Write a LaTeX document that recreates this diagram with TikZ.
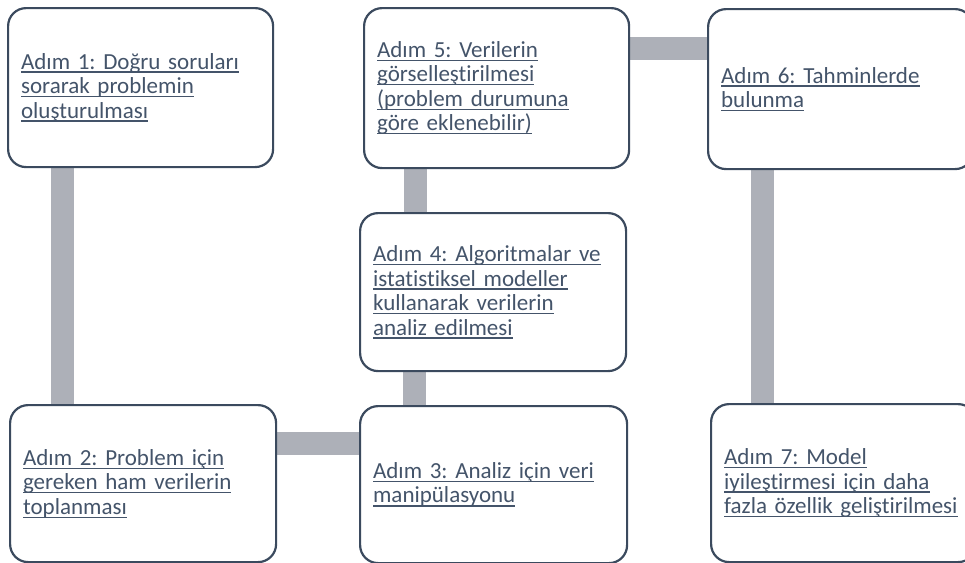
\documentclass[tikz,border=0pt]{standalone}
\usepackage{fontspec}
\setmainfont{Carlito}[Ligatures=NoCommon]
\usetikzlibrary{backgrounds}
\definecolor{boxline}{HTML}{3B4A5E}
\definecolor{txt}{HTML}{44546A}
\definecolor{link}{HTML}{ADB0B8}
\frenchspacing
\newlength\ulwd
% underlined line at a fixed depth below the baseline
\newcommand\ulline[1]{\mbox{\settowidth\ulwd{#1}\rlap{\rule[-3.6pt]{\ulwd}{1.3pt}}#1}}
\begin{document}
\begin{tikzpicture}[x=1pt,y=-1pt,
  stepbox/.style={draw=boxline, line width=2.2pt, fill=white,
    rounded corners=18pt, anchor=north west, inner xsep=13pt, inner ysep=0pt,
    align=left, text=txt, font=\fontsize{23}{24.5}\selectfont},
  conn/.style={draw=link, line width=23pt}]
\useasboundingbox (0,0) rectangle (965,562);
\clip (0,0) rectangle (965,562);
% boxes
\node[stepbox, text width=239pt, minimum height=159pt] (b1) at (7,7)
  {\ulline{Adım 1: Doğru soruları}\\\ulline{sorarak problemin}\\\ulline{oluşturulması}};
\node[stepbox, text width=240pt, minimum height=157pt] (b2) at (9,404)
  {\ulline{Adım 2: Problem için}\\\ulline{gereken ham verilerin}\\\ulline{toplanması}};
\node[stepbox, text width=241pt, minimum height=157pt] (b3) at (359,405)
  {\ulline{Adım 3: Analiz için veri}\\\ulline{manipülasyonu}};
\node[stepbox, text width=240pt, minimum height=158pt] (b4) at (359,212)
  {\ulline{Adım 4: Algoritmalar ve}\\\ulline{istatistiksel modeller}\\\ulline{kullanarak verilerin}\\\ulline{analiz edilmesi}};
\node[stepbox, text width=239pt, minimum height=160pt] (b5) at (363,7)
  {\ulline{Adım 5: Verilerin}\\\ulline{görselleştirilmesi}\\\ulline{(problem durumuna}\\\ulline{göre eklenebilir)}};
\node[stepbox, text width=239pt, minimum height=160pt] (b6) at (707,8)
  {\ulline{Adım 6: Tahminlerde}\\\ulline{bulunma}};
\node[stepbox, text width=239pt, minimum height=158pt] (b7) at (710,403)
  {\ulline{Adım 7: Model}\\\ulline{iyileştirmesi için daha}\\\ulline{fazla özellik geliştirilmesi}};
% connectors, drawn behind the boxes
\begin{scope}[on background layer]
\draw[conn] (b1.south -| 62,0) -- (b2.north -| 62,0);
\draw[conn] (b2.east |- 0,443.5) -- (b3.west |- 0,443.5);
\draw[conn] (b3.north -| 414,0) -- (b4.south -| 414,0);
\draw[conn] (b4.north -| 415,0) -- (b5.south -| 415,0);
\draw[conn] (b5.east |- 0,48.5) -- (b6.west |- 0,48.5);
\draw[conn] (b6.south -| 762.5,0) -- (b7.north -| 762.5,0);
\end{scope}
\end{tikzpicture}
\end{document}
